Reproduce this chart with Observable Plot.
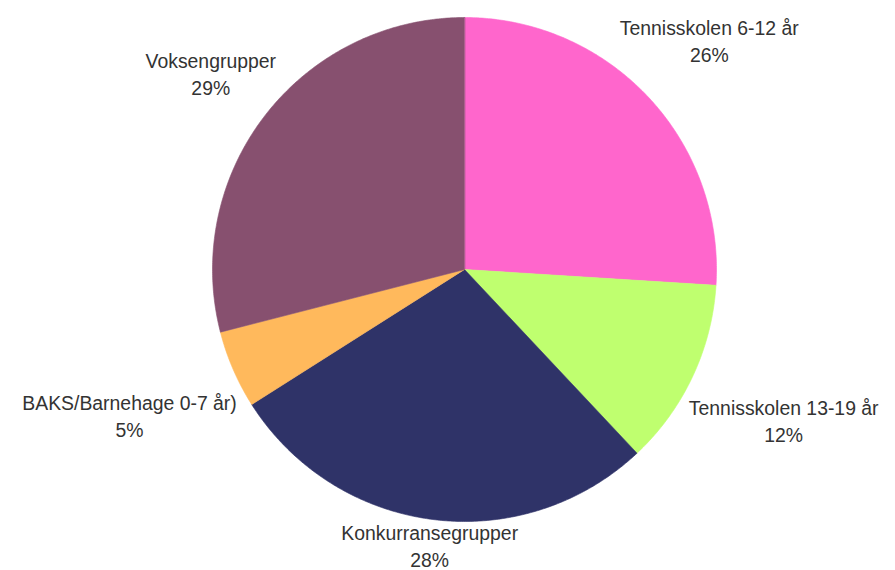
<!DOCTYPE html>
<html><head><meta charset="utf-8">
<script src="https://cdn.jsdelivr.net/npm/d3@7"></script>
<script src="https://cdn.jsdelivr.net/npm/@observablehq/plot@0.6"></script>
<style>html,body{margin:0;padding:0;background:#fff} svg{display:block}</style>
</head><body><div id="chart"></div>
<script>
// ---- data ----
const categories = ["Tennisskolen 6-12 år", "Tennisskolen 13-19 år", "Konkurransegrupper", "BAKS/Barnehage 0-7 år)", "Voksengrupper"];
const shares = [26, 12, 28, 5, 29];
const colors = ["#FF66CC", "#BFFF6F", "#2F3368", "#FFB95C", "#87506F"];

// ---- layout ----
const W = 895, H = 570, cx = 464, cy = 269, R = 252;
const FONT = 19.4;
const pie = d3.pie().sort(null).value(d => d)(shares);
const total = d3.sum(shares);

// slice polygons in unit-circle coordinates (y up, angle clockwise from top)
const slicePts = [];
pie.forEach((p, i) => {
  slicePts.push({cat: categories[i], x: 0, y: 0});
  const n = Math.max(2, Math.ceil((p.endAngle - p.startAngle) / (Math.PI / 360)));
  for (let k = 0; k <= n; k++) {
    const a = p.startAngle + (p.endAngle - p.startAngle) * k / n;
    slicePts.push({cat: categories[i], x: Math.sin(a), y: Math.cos(a)});
  }
});

// labels placed outside along the mid-angle
const ctx = document.createElement("canvas").getContext("2d");
ctx.font = FONT + "px 'Liberation Sans'";
const labels = pie.map((p, i) => {
  const a = (p.startAngle + p.endAngle) / 2;
  const s = Math.sin(a), c = Math.cos(a);
  const hw = ctx.measureText(categories[i]).width / 2, hh = 14;
  let d = (R + 9) + hw * Math.abs(s) + hh * Math.abs(c);
  let px = cx + d * s, py = cy - d * c;
  const maxY = H - 25.5, minY = 23.5;
  if (py > maxY) { const f = (maxY - cy) / (py - cy); px = cx + (px - cx) * f; py = maxY; }
  if (py < minY) { const f = (minY - cy) / (py - cy); px = cx + (px - cx) * f; py = minY; }
  return {
    cat: categories[i],
    x: (px - cx) / R,
    y: (cy - py) / R,
    text: categories[i] + "\n" + Math.round(shares[i] / total * 100) + "%"
  };
});

const chart = Plot.plot({
  width: W, height: H, margin: 0,
  style: {fontFamily: "'Liberation Sans', Arial, sans-serif", background: "#fff"},
  x: {type: "linear", domain: [-cx / R, (W - cx) / R], range: [0, W], axis: null},
  y: {type: "linear", domain: [-(H - cy) / R, cy / R], range: [H, 0], axis: null},
  color: {domain: categories, range: colors},
  marks: [
    Plot.line(slicePts, {x: "x", y: "y", z: "cat", fill: "cat", stroke: "cat", strokeWidth: 0.6, curve: "linear-closed"}),
    Plot.text(labels, {x: "x", y: "y", text: "text", fontSize: FONT, lineHeight: 1.39, fill: "#333", textAnchor: "middle"})
  ]
});
document.getElementById("chart").appendChild(chart);
</script>
</body></html>
